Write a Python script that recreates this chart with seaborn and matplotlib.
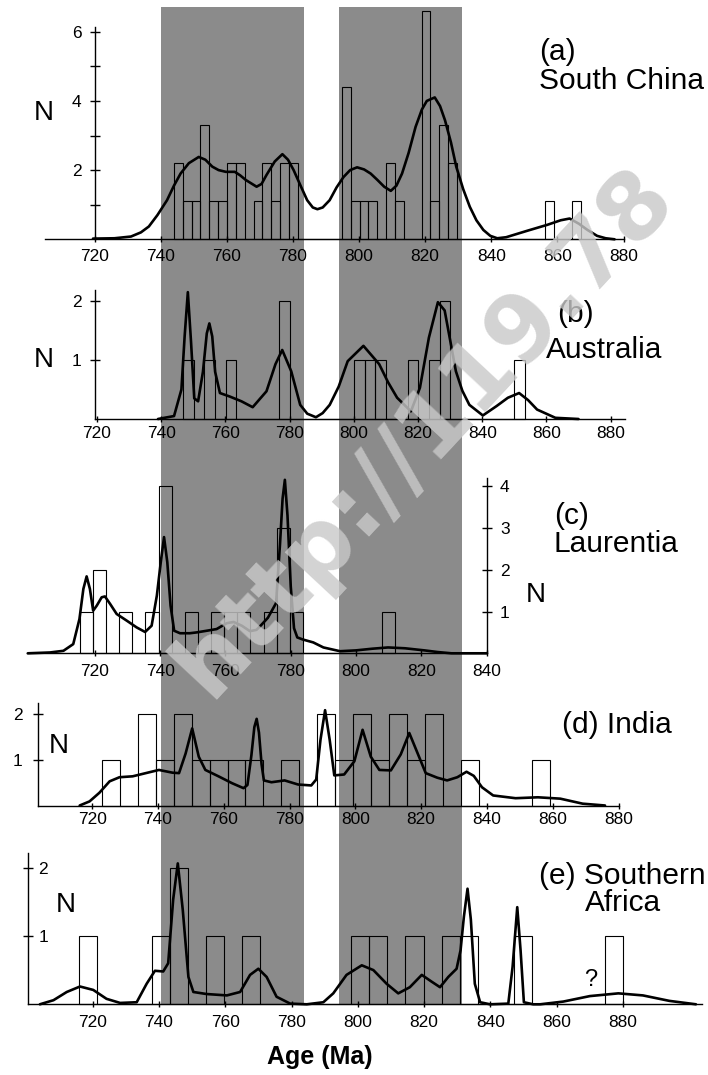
import numpy as np
import pandas as pd
import matplotlib
matplotlib.use("Agg")
import matplotlib.pyplot as plt
from matplotlib.patches import Rectangle
import seaborn as sns

# ------------------------------------------------------------------ data
# (a) South China
a_bin_start, a_bin_width = 744.0, 2.675
a_counts = [2.2, 1.1, 1.1, 3.3, 1.1, 1.1, 2.2, 2.2, 0, 1.1, 2.2, 1.1, 2.2, 2.2,
            0, 0, 0, 0, 0,
            4.4, 1.1, 1.1, 1.1, 0, 2.2, 1.1, 0, 0, 6.6, 1.1, 3.3, 2.2,
            0, 0, 0, 0, 0, 0, 0, 0, 0, 0,
            1.1, 0, 0, 1.1]
a_age = [719.5, 726, 731, 734, 736.4, 739, 741.9, 744, 746, 748.5, 751.5, 753.5,
         755.6, 757.5, 759.7, 762.4, 764, 765.8, 769, 770.5, 772, 774.5, 776.8,
         778.5, 780.2, 782.3, 784.3, 786, 787.4, 789, 791.1, 793.2, 795.3, 797.3,
         799.4, 801.5, 803.5, 805.5, 807.6, 809.6, 811.3, 813, 815, 817.1, 819,
         820.5, 822.9, 824.5, 826, 827.8, 829.4, 831.5, 833.5, 835.5, 837.6,
         839.7, 841.8, 844.5, 851, 857, 861, 863.7, 866.5, 869.1, 872, 874.6, 877.3]
a_n = [0.02, 0.03, 0.08, 0.2, 0.37, 0.7, 1.13, 1.55, 1.9, 2.2, 2.38, 2.3,
       2.1, 2.0, 1.95, 1.95, 1.85, 1.71, 1.52, 1.6, 1.86, 2.25, 2.46,
       2.3, 2.0, 1.55, 1.13, 0.92, 0.87, 0.92, 1.13, 1.5, 1.8, 2.0,
       2.08, 2.02, 1.9, 1.72, 1.52, 1.4, 1.55, 1.9, 2.5, 3.25, 3.75,
       4.0, 4.1, 3.85, 3.44, 2.8, 2.1, 1.45, 0.94, 0.55, 0.27,
       0.1, 0.03, 0.06, 0.25, 0.42, 0.55, 0.6, 0.45, 0.27, 0.1, 0.03, 0.0]

# (b) Australia
b_bin_start, b_bin_width = 746.8, 3.33
b_counts = [1, 0, 1, 0, 1, 0, 0, 0, 0, 2, 0, 0, 0, 0, 0, 0,
            1, 1, 1, 0, 0, 1, 0, 1, 2, 0, 0, 0, 0, 0, 0, 1]
b_age = [739, 744, 746.3, 747.3, 748.3, 749.3, 750.3, 751.5, 753.0, 754.2, 755.0,
         755.9, 756.8, 758.3, 761.4, 765.0, 768.5, 772.8, 775.6, 777.7, 780.5,
         783.3, 785.5, 788.2, 790.3, 792.5, 795.3, 798.1, 803.0, 807.9, 810.7,
         813.5, 817.8, 820.6, 823.4, 826.2, 828.3, 831.8, 833.8, 836.0, 840.2,
         844.5, 848.0, 851.5, 854.3, 857.1, 862.8, 870.0]
b_n = [0, 0.05, 0.5, 1.4, 2.15, 1.3, 0.35, 0.3, 0.8, 1.45, 1.62,
       1.4, 0.8, 0.44, 0.38, 0.3, 0.2, 0.47, 0.93, 1.17, 0.81,
       0.24, 0.09, 0.03, 0.1, 0.24, 0.55, 0.98, 1.24, 0.93, 0.62,
       0.36, 0.13, 0.53, 1.38, 1.98, 1.84, 0.81, 0.48, 0.24, 0.06,
       0.22, 0.36, 0.44, 0.32, 0.16, 0.02, 0.0]

# (c) Laurentia
c_bin_start, c_bin_width = 715.4, 4.02
c_counts = [1, 2, 0, 1, 0, 1, 4, 0, 1, 0, 1, 1, 1, 0, 1, 3, 1,
            0, 0, 0, 0, 0, 0, 1]
c_age = [699.5, 706.3, 710.4, 713.4, 715.3, 716.5, 717.5, 718.5, 719.5, 720.6,
         722.1, 723.1, 724.7, 726.7, 729.8, 732.8, 735.4, 737.4, 739.0, 740.2,
         741.2, 742.2, 743.2, 744.3, 746.1, 749.1, 751.2, 754.3, 757.3, 760.4,
         762.5, 765.0, 767.5, 769.5, 771.0, 773.0, 775.5, 776.7, 777.5, 778.2,
         779.0, 780.0, 781.0, 782.0, 783.7, 786.9, 790.0, 795.1, 800, 805,
         809.8, 815, 820.9, 825, 829.2, 840]
c_n = [0, 0.02, 0.06, 0.22, 0.82, 1.54, 1.84, 1.54, 1.02, 1.14,
       1.34, 1.36, 1.18, 0.94, 0.78, 0.62, 0.51, 0.66, 1.38, 2.18,
       2.78, 2.18, 1.14, 0.54, 0.48, 0.48, 0.5, 0.54, 0.58, 0.72,
       0.75, 0.66, 0.53, 0.56, 0.68, 0.85, 1.2, 2.6, 3.7, 4.15,
       3.3, 1.6, 0.6, 0.38, 0.33, 0.26, 0.14, 0.05, 0.07, 0.11,
       0.14, 0.12, 0.07, 0.03, 0.0, 0.0]

# (d) India
d_bin_start, d_bin_width = 723.0, 5.45
d_counts = [1, 0, 2, 1, 2, 1, 1, 1, 1, 0, 1, 0, 2, 1, 2, 1, 2, 1, 2, 0, 1,
            0, 0, 0, 1]
d_age = [716.2, 719.2, 722.2, 725.3, 728.3, 732.3, 736.3, 740.3, 744.4, 746.4,
         748.4, 750.4, 752.4, 754.4, 758.4, 762.5, 766.0, 767.2, 768.4, 769.3,
         770.0, 770.7, 771.5, 772.2, 774.5, 778.5, 782.6, 786.6, 788.1, 789.4,
         790.8, 792.2, 793.6, 796.6, 799.7, 802.2, 804.7, 807.3, 810.8, 813.8,
         816.4, 818.9, 821.4, 824.9, 827.9, 831.0, 833.8, 836.0, 838.5, 841.9,
         848.7, 855.5, 862.3, 869.1, 875.9]
d_n = [0, 0.09, 0.28, 0.53, 0.62, 0.64, 0.71, 0.78, 0.72, 0.71,
       1.14, 1.69, 1.07, 0.78, 0.64, 0.49, 0.38, 0.45, 1.1, 1.72,
       1.9, 1.6, 0.9, 0.55, 0.51, 0.55, 0.46, 0.44, 0.57, 1.44,
       2.09, 1.44, 0.66, 0.68, 0.97, 1.66, 1.07, 0.78, 0.77, 1.12,
       1.59, 1.15, 0.71, 0.61, 0.55, 0.62, 0.74, 0.65, 0.4, 0.22,
       0.16, 0.18, 0.15, 0.04, 0.0]

# (e) Southern Africa
e_bin_start, e_bin_width = 715.9, 5.47
e_counts = [1, 0, 0, 0, 1, 2, 0, 1, 0, 1, 0, 0, 0, 0, 0, 1, 1, 0, 1, 0, 1, 1,
            0, 0, 1, 0, 0, 0, 0, 1]
e_age = [704.1, 708.2, 712.2, 716.2, 720.2, 724.2, 728.3, 733.3, 736.3, 738.8,
         741.3, 742.8, 744.3, 745.7, 747.2, 748.9, 750.4, 754.4, 760.5, 764.5,
         767.5, 770.0, 772.5, 775.5, 779.6, 784.6, 789.6, 792.6, 796.6, 801.2,
         804.7, 808.7, 812.2, 815.7, 819.3, 822.3, 824.8, 827.3, 829.8, 831.0,
         832.0, 833.1, 834.1, 835.3, 836.9, 839.9, 845.4, 846.7, 848.1, 849.1,
         850.1, 852.9, 855.0, 862.0, 870.0, 878.6, 886.0, 894.0, 902.0]
e_n = [0, 0.06, 0.18, 0.26, 0.21, 0.08, 0.02, 0.03, 0.3, 0.49,
       0.48, 0.6, 1.53, 2.06, 1.38, 0.4, 0.18, 0.15, 0.13, 0.18,
       0.43, 0.52, 0.4, 0.11, 0.01, 0.0, 0.03, 0.16, 0.43, 0.57,
       0.5, 0.3, 0.16, 0.25, 0.43, 0.33, 0.25, 0.4, 0.52, 0.79,
       1.28, 1.69, 1.24, 0.3, 0.03, 0.0, 0.01, 0.55, 1.42, 0.79,
       0.03, 0.0, 0.0, 0.04, 0.12, 0.16, 0.13, 0.05, 0.0]

age_ticks_full = [720, 740, 760, 780, 800, 820, 840, 860, 880]
age_ticks_c = [720, 740, 760, 780, 800, 820, 840]
band_pixels = [(160.5, 303.5), (339.3, 461.8)]

# ------------------------------------------------------------------ style
sns.set_style("white")
plt.rcParams["font.family"] = ["Liberation Sans", "DejaVu Sans"]
plt.rcParams.update({"text.color": "black", "xtick.color": "black",
                     "ytick.color": "black", "axes.edgecolor": "black",
                     "axes.labelcolor": "black"})

W, H = 708, 1075
fig = plt.figure(figsize=(7.08, 10.75), dpi=100)
fig.patch.set_facecolor("white")

TICK_FS = 12.5
LBL_FS = 21.5
N_FS = 20
CURVE_LW = 1.9
BAR_LW = 0.8
SPINE_LW = 1.0


def fx(px):
    return px / W


def fy(py):
    return 1 - py / H


def make_axes(px_left, px_right, px720, scale, base, unit, ymax):
    top = base - ymax * unit
    ax = fig.add_axes([fx(px_left), fy(base), (px_right - px_left) / W,
                       (base - top) / H])
    ax.set_facecolor("none")
    ax.patch.set_visible(False)
    x0 = 720 + (px_left - px720) / scale
    x1 = 720 + (px_right - px720) / scale
    return ax, (x0, x1, ymax)


def draw_panel(ax, lims, start, width, counts, age, n):
    edges = [start + width * i for i in range(len(counts) + 1)]
    hist_df = pd.DataFrame({"age": [e + width / 2 for e in edges[:-1]],
                            "n": counts})
    sns.histplot(data=hist_df, x="age", weights="n", bins=edges, ax=ax,
                 fill=False, color="black", linewidth=BAR_LW,
                 element="bars", stat="count")
    for p in ax.patches:
        p.set_clip_on(False)
        p.set_edgecolor("black")
    curve_df = pd.DataFrame({"age": age, "n": n})
    sns.lineplot(data=curve_df, x="age", y="n", ax=ax, color="black",
                 lw=CURVE_LW, estimator=None, sort=False)
    for ln in ax.lines:
        ln.set_clip_on(False)
        ln.set_solid_joinstyle("round")
    ax.set_xlim(lims[0], lims[1])
    ax.set_ylim(0, lims[2])
    ax.set_xlabel("")
    ax.set_ylabel("")
    for s in ax.spines.values():
        s.set_linewidth(SPINE_LW)
        s.set_color("black")
    ax.spines["top"].set_visible(False)


# gray bands (figure level, behind everything)
for (l, r) in band_pixels:
    fig.add_artist(Rectangle((fx(l), fy(1004.3)), (r - l) / W,
                             (1004.3 - 7) / H, transform=fig.transFigure,
                             facecolor="#8b8b8b", edgecolor="none", zorder=-5))

# ---------------- panel (a)
ax, lims = make_axes(45, 623.5, 94.7, 3.31, 239.3, 34.6, 6.9)
draw_panel(ax, lims, a_bin_start, a_bin_width, a_counts, a_age, a_n)
ax.spines["right"].set_visible(False)
ax.spines["left"].set_position(("data", 720))
ax.spines["left"].set_bounds(0, 6.15)
ax.set_yticks([2, 4, 6])
ax.set_yticks([1, 3, 5], minor=True)
ax.tick_params(axis="y", which="both", direction="inout", length=7,
               width=1, left=True, labelsize=TICK_FS, pad=6)
ax.set_xticks(age_ticks_full)
ax.tick_params(axis="x", direction="inout", length=4, width=1, bottom=True,
               labelsize=TICK_FS, pad=5)

# ---------------- panel (b)
ax, lims = make_axes(94.8, 625, 97, 3.21, 419, 59, 2.35)
draw_panel(ax, lims, b_bin_start, b_bin_width, b_counts, b_age, b_n)
ax.spines["right"].set_visible(False)
ax.spines["left"].set_bounds(0, 2.19)
ax.set_yticks([1, 2])
ax.tick_params(axis="y", direction="inout", length=7, width=1, left=True,
               labelsize=TICK_FS, pad=6)
ax.set_xticks(age_ticks_full)
ax.tick_params(axis="x", direction="inout", length=4, width=1, bottom=True,
               labelsize=TICK_FS, pad=3)

# ---------------- panel (c)
ax, lims = make_axes(27, 486.7, 94.8, 3.266, 653.3, 41.8, 4.3)
draw_panel(ax, lims, c_bin_start, c_bin_width, c_counts, c_age, c_n)
ax.spines["left"].set_visible(False)
ax.spines["right"].set_bounds(0, 4.19)
ax.yaxis.tick_right()
ax.set_yticks([1, 2, 3, 4])
ax.tick_params(axis="y", direction="inout", length=7, width=1, right=True,
               left=False, labelsize=TICK_FS, pad=6)
ax.set_xticks(age_ticks_c)
ax.tick_params(axis="x", direction="inout", length=4, width=1, bottom=True,
               labelsize=TICK_FS, pad=6)

# ---------------- panel (d)
ax, lims = make_axes(38.4, 618.5, 92.6, 3.315, 805.5, 45.6, 2.3)
draw_panel(ax, lims, d_bin_start, d_bin_width, d_counts, d_age, d_n)
ax.spines["right"].set_visible(False)
ax.spines["left"].set_bounds(0, 2.25)
ax.set_yticks([1, 2])
ax.tick_params(axis="y", direction="inout", length=7, width=1, left=True,
               labelsize=TICK_FS, pad=8)
ax.set_xticks(age_ticks_full)
ax.tick_params(axis="x", direction="inout", length=4, width=1, bottom=True,
               labelsize=TICK_FS, pad=3)

# ---------------- panel (e)
ax, lims = make_axes(28, 702, 92.6, 3.315, 1004.3, 68.4, 2.25)
draw_panel(ax, lims, e_bin_start, e_bin_width, e_counts, e_age, e_n)
ax.spines["right"].set_visible(False)
ax.spines["left"].set_bounds(0, 2.21)
ax.set_yticks([1, 2])
ax.tick_params(axis="y", direction="inout", length=7, width=1, left=True,
               labelsize=TICK_FS, pad=-11)
for t in ax.get_yticklabels():
    t.set_ha("left")
ax.set_xticks(age_ticks_full)
ax.tick_params(axis="x", direction="inout", length=4, width=1, bottom=True,
               labelsize=TICK_FS, pad=6)


# ---------------- texts
def ftext(px, py, s, **kw):
    fig.text(fx(px), fy(py), s, va="baseline", **kw)


ftext(539, 60, "(a)", fontsize=LBL_FS)
ftext(539, 89, "South China", fontsize=LBL_FS)
ftext(557, 322, "(b)", fontsize=LBL_FS)
ftext(546, 358, "Australia", fontsize=LBL_FS)
ftext(554, 524, "(c)", fontsize=LBL_FS)
ftext(554, 552, "Laurentia", fontsize=LBL_FS)
ftext(562, 733, "(d) India", fontsize=LBL_FS)
ftext(539, 884, "(e) Southern", fontsize=LBL_FS)
ftext(585, 911, "Africa", fontsize=LBL_FS)
for (px, py) in [(34, 120), (34, 367), (526, 602), (49, 753), (56, 912)]:
    ftext(px, py, "N", fontsize=N_FS)
ftext(591, 986, "?", fontsize=17, ha="center")
ftext(320, 1064, "Age (Ma)", fontsize=18, fontweight="bold", ha="center")

# watermark
fig.text(fx(424), fy(432), "http://119.78", rotation=47, fontsize=67,
         family="DejaVu Sans", fontweight="bold", color=(0.79, 0.79, 0.79),
         alpha=0.81, ha="center", va="center", rotation_mode="anchor",
         zorder=100)

fig.savefig("out.png", dpi=100, facecolor="white")
